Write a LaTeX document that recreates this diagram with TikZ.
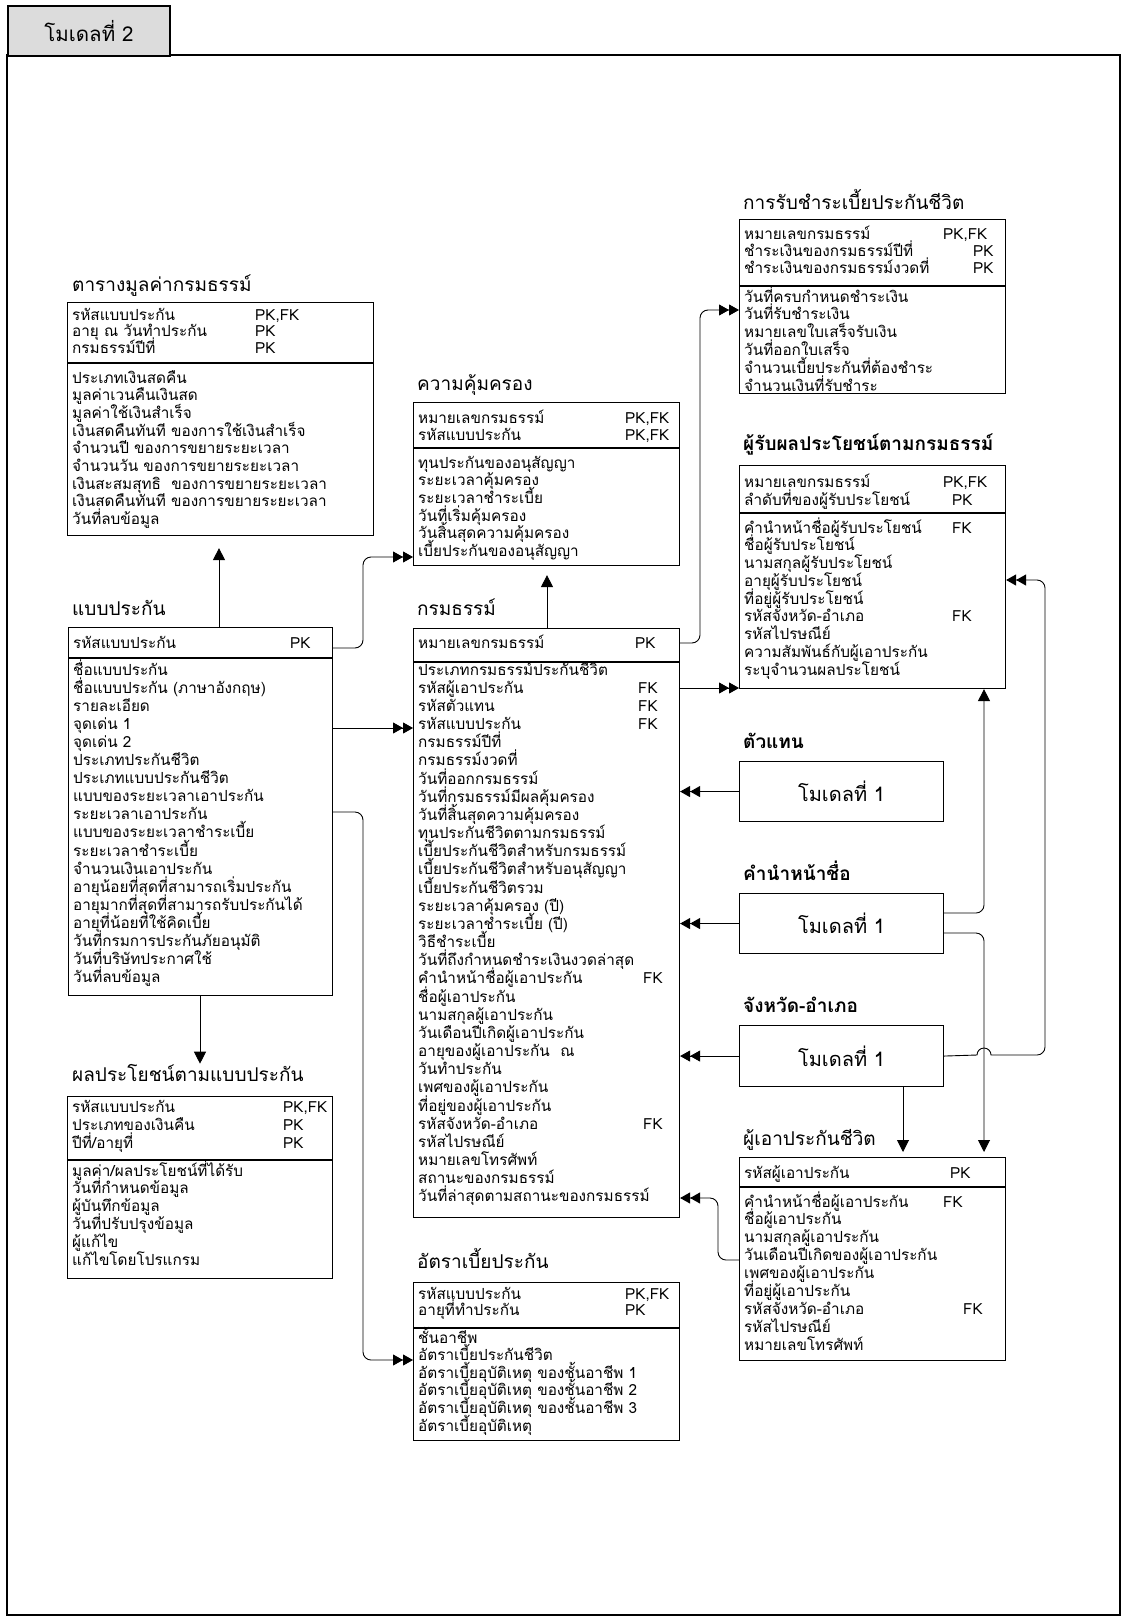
\documentclass[tikz,border=0pt]{standalone}
\usepackage{fontspec}
\setmainfont[Script=Thai]{Loma}
\usetikzlibrary{arrows.meta}
\definecolor{tabfill}{RGB}{220,220,220}
\newcommand{\tblrows}[5]{\foreach \rowtxt [count=\ri] in {#5} {\node[txt] (#1\ri) at (#2,{#3+(\ri-1)*#4}) {\rowtxt};}}
\begin{document}
\begin{tikzpicture}[x=1pt,y=-1pt,
  box/.style={draw, line width=1.1pt, inner sep=0, anchor=north west},
  txt/.style={anchor=base west, inner sep=0, font=\fontsize{15.3}{18}\selectfont},
  ttl/.style={anchor=base west, inner sep=0, font=\fontsize{19}{22}\selectfont},
  bttl/.style={ttl, font=\fontsize{19}{22}\selectfont\bfseries},
  conn/.style={line width=0.9pt, rounded corners=8},
  dbl/.style={-{Triangle[length=10,width=11]Triangle[length=10,width=11]}},
  sgl/.style={-{Triangle[length=12,width=12]}},
  div/.style={line width=1.1pt}]
\useasboundingbox (0,0) rectangle (1127,1621);
% frame and tab
\draw[line width=2pt] (7,55) rectangle (1120,1615);
\node[draw, line width=2pt, fill=tabfill, anchor=north west, minimum width=162, minimum height=50, inner sep=0, font=\fontsize{20.5}{24}\selectfont] (tab) at (7,5) {โมเดลที่ 2};

% ---------- A: ตารางมูลค่ากรมธรรม์
\node[ttl] (At) at (72,291) {ตารางมูลค่ากรมธรรม์};
\node[box, minimum width=306, minimum height=233] (A) at (67,302) {};
\draw[div] (A.west |- 0,363) -- (A.east |- 0,363);
\tblrows{Ah}{72}{320}{16.5}{รหัสแบบประกัน, อายุ ณ วันทำประกัน, กรมธรรม์ปีที่}
\node[txt] (Ak1) at (255,320) {PK,FK};
\node[txt] (Ak2) at (255,336.5) {PK};
\node[txt] (Ak3) at (255,353) {PK};
\tblrows{Ab}{72}{383}{17.7}{ประเภทเงินสดคืน, มูลค่าเวนคืนเงินสด, มูลค่าใช้เงินสำเร็จ, เงินสดคืนทันที ของการใช้เงินสำเร็จ, จำนวนปี ของการขยายระยะเวลา, จำนวนวัน ของการขยายระยะเวลา, เงินสะสมสุทธิ\ \ ของการขยายระยะเวลา, เงินสดคืนทันที ของการขยายระยะเวลา, วันที่ลบข้อมูล}

% ---------- B: แบบประกัน
\node[ttl] (Bt) at (72,615) {แบบประกัน};
\node[box, minimum width=264, minimum height=368] (B) at (68,627) {};
\draw[div] (B.west |- 0,658) -- (B.east |- 0,658);
\node[txt] (Bh1) at (73,648) {รหัสแบบประกัน};
\node[txt] (Bk1) at (290,648) {PK};
\tblrows{Bb}{73}{675}{18.1}{ชื่อแบบประกัน, ชื่อแบบประกัน (ภาษาอังกฤษ), รายละเอียด, จุดเด่น 1, จุดเด่น 2, ประเภทประกันชีวิต, ประเภทแบบประกันชีวิต, แบบของระยะเวลาเอาประกัน, ระยะเวลาเอาประกัน, แบบของระยะเวลาชำระเบี้ย, ระยะเวลาชำระเบี้ย, จำนวนเงินเอาประกัน, อายุน้อยที่สุดที่สามารถเริ่มประกัน, อายุมากที่สุดที่สามารถรับประกันได้, อายุที่น้อยที่ใช้คิดเบี้ย, วันที่กรมการประกันภัยอนุมัติ, วันที่บริษัทประกาศใช้, วันที่ลบข้อมูล}

% ---------- C: ผลประโยชน์ตามแบบประกัน
\node[ttl] (Ct) at (72,1081) {ผลประโยชน์ตามแบบประกัน};
\node[box, minimum width=265, minimum height=182] (C) at (67,1096) {};
\draw[div] (C.west |- 0,1160) -- (C.east |- 0,1160);
\tblrows{Ch}{72}{1112}{18}{รหัสแบบประกัน, ประเภทของเงินคืน, ปีที่/อายุที่}
\node[txt] (Ck1) at (283,1112) {PK,FK};
\node[txt] (Ck2) at (283,1130) {PK};
\node[txt] (Ck3) at (283,1148) {PK};
\tblrows{Cb}{72}{1176}{17.9}{มูลค่า/ผลประโยชน์ที่ได้รับ, วันที่กำหนดข้อมูล, ผู้บันทึกข้อมูล, วันที่ปรับปรุงข้อมูล, ผู้แก้ไข, แก้ไขโดยโปรแกรม}

% ---------- D: ความคุ้มครอง
\node[ttl] (Dt) at (417,390) {ความคุ้มครอง};
\node[box, minimum width=266, minimum height=163] (D) at (413,402) {};
\draw[div] (D.west |- 0,448) -- (D.east |- 0,448);
\tblrows{Dh}{418}{423}{17}{หมายเลขกรมธรรม์, รหัสแบบประกัน}
\node[txt] (Dk1) at (625,423) {PK,FK};
\node[txt] (Dk2) at (625,440) {PK,FK};
\tblrows{Db}{418}{468}{17.7}{ทุนประกันของอนุสัญญา, ระยะเวลาคุ้มครอง, ระยะเวลาชำระเบี้ย, วันที่เริ่มคุ้มครอง, วันสิ้นสุดความคุ้มครอง, เบี้ยประกันของอนุสัญญา}

% ---------- E: กรมธรรม์
\node[ttl] (Et) at (417,615) {กรมธรรม์};
\node[box, minimum width=266, minimum height=589] (E) at (413,628) {};
\draw[div] (E.west |- 0,662) -- (E.east |- 0,662);
\node[txt] (Eh1) at (418,648) {หมายเลขกรมธรรม์};
\node[txt] (Ek0) at (635,648) {PK};
\tblrows{Eb}{418}{675}{18.17}{ประเภทกรมธรรม์ประกันชีวิต, รหัสผู้เอาประกัน, รหัสตัวแทน, รหัสแบบประกัน, กรมธรรม์ปีที่, กรมธรรม์งวดที่, วันที่ออกกรมธรรม์, วันที่กรมธรรม์มีผลคุ้มครอง, วันที่สิ้นสุดความคุ้มครอง, ทุนประกันชีวิตตามกรมธรรม์, เบี้ยประกันชีวิตสำหรับกรมธรรม์, เบี้ยประกันชีวิตสำหรับอนุสัญญา, เบี้ยประกันชีวิตรวม, ระยะเวลาคุ้มครอง (ปี), ระยะเวลาชำระเบี้ย (ปี), วิธีชำระเบี้ย, วันที่ถึงกำหนดชำระเงินงวดล่าสุด, คำนำหน้าชื่อผู้เอาประกัน, ชื่อผู้เอาประกัน, นามสกุลผู้เอาประกัน, วันเดือนปีเกิดผู้เอาประกัน, อายุของผู้เอาประกัน\ \ ณ, วันทำประกัน, เพศของผู้เอาประกัน, ที่อยู่ของผู้เอาประกัน, รหัสจังหวัด-อำเภอ, รหัสไปรษณีย์, หมายเลขโทรศัพท์, สถานะของกรมธรรม์, วันที่ล่าสุดตามสถานะของกรมธรรม์}
\node[txt] (Ek2) at (638,693.17) {FK};
\node[txt] (Ek3) at (638,711.34) {FK};
\node[txt] (Ek4) at (638,729.51) {FK};
\node[txt] (Ek18) at (643,983.9) {FK};
\node[txt] (Ek26) at (643,1129.3) {FK};

% ---------- G: การรับชำระเบี้ยประกันชีวิต
\node[ttl] (Gt) at (743,210) {การรับชำระเบี้ยประกันชีวิต};
\node[box, minimum width=266, minimum height=174] (G) at (739,219) {};
\draw[div] (G.west |- 0,286) -- (G.east |- 0,286);
\tblrows{Gh}{744}{240}{16.5}{หมายเลขกรมธรรม์, ชำระเงินของกรมธรรม์ปีที่, ชำระเงินของกรมธรรม์งวดที่}
\node[txt] (Gk1) at (943,240) {PK,FK};
\node[txt] (Gk2) at (973,256.5) {PK};
\node[txt] (Gk3) at (973,273) {PK};
\tblrows{Gb}{744}{302}{17.8}{วันที่ครบกำหนดชำระเงิน, วันที่รับชำระเงิน, หมายเลขใบเสร็จรับเงิน, วันที่ออกใบเสร็จ, จำนวนเบี้ยประกันที่ต้องชำระ, จำนวนเงินที่รับชำระ}

% ---------- F: ผู้รับผลประโยชน์ตามกรมธรรม์
\node[bttl] (Ft) at (743,450) {ผู้รับผลประโยชน์ตามกรมธรรม์};
\node[box, minimum width=266, minimum height=223] (F) at (739,465) {};
\draw[div] (F.west |- 0,513) -- (F.east |- 0,513);
\tblrows{Fh}{744}{487}{18}{หมายเลขกรมธรรม์, ลำดับที่ของผู้รับประโยชน์}
\node[txt] (Fk1) at (943,487) {PK,FK};
\node[txt] (Fk2) at (952,505) {PK};
\tblrows{Fb}{744}{533}{17.75}{คำนำหน้าชื่อผู้รับประโยชน์, ชื่อผู้รับประโยชน์, นามสกุลผู้รับประโยชน์, อายุผู้รับประโยชน์, ที่อยู่ผู้รับประโยชน์, รหัสจังหวัด-อำเภอ, รหัสไปรษณีย์, ความสัมพันธ์กับผู้เอาประกัน, ระบุจำนวนผลประโยชน์}
\node[txt] (Fk3) at (952,533) {FK};
\node[txt] (Fk4) at (952,621.75) {FK};

% ---------- model boxes
\node[bttl] (M1t) at (743,748) {ตัวแทน};
\node[box, minimum width=204, minimum height=60, font=\fontsize{20}{24}\selectfont] (M1) at (739,761) {โมเดลที่ 1};
\node[bttl] (M2t) at (743,880) {คำนำหน้าชื่อ};
\node[box, minimum width=204, minimum height=60, font=\fontsize{20}{24}\selectfont] (M2) at (739,893) {โมเดลที่ 1};
\node[bttl] (M3t) at (743,1012) {จังหวัด-อำเภอ};
\node[box, minimum width=204, minimum height=61, font=\fontsize{20}{24}\selectfont] (M3) at (739,1025) {โมเดลที่ 1};

% ---------- H: ผู้เอาประกันชีวิต
\node[ttl] (Ht) at (743,1145) {ผู้เอาประกันชีวิต};
\node[box, minimum width=266, minimum height=203] (H) at (739,1157) {};
\draw[div] (H.west |- 0,1187) -- (H.east |- 0,1187);
\node[txt] (Hh1) at (744,1178) {รหัสผู้เอาประกัน};
\node[txt] (Hk0) at (950,1178) {PK};
\tblrows{Hb}{744}{1207}{17.9}{คำนำหน้าชื่อผู้เอาประกัน, ชื่อผู้เอาประกัน, นามสกุลผู้เอาประกัน, วันเดือนปีเกิดของผู้เอาประกัน, เพศของผู้เอาประกัน, ที่อยู่ผู้เอาประกัน, รหัสจังหวัด-อำเภอ, รหัสไปรษณีย์, หมายเลขโทรศัพท์}
\node[txt] (Hk1) at (943,1207) {FK};
\node[txt] (Hk7) at (963,1314.4) {FK};

% ---------- I: อัตราเบี้ยประกัน
\node[ttl] (It) at (417,1268) {อัตราเบี้ยประกัน};
\node[box, minimum width=266, minimum height=158] (I) at (413,1282) {};
\draw[div] (I.west |- 0,1328) -- (I.east |- 0,1328);
\tblrows{Ih}{418}{1299}{16.5}{รหัสแบบประกัน, อายุที่ทำประกัน}
\node[txt] (Ik1) at (625,1299) {PK,FK};
\node[txt] (Ik2) at (625,1315.5) {PK};
\tblrows{Ib}{418}{1343}{17.6}{ชั้นอาชีพ, อัตราเบี้ยประกันชีวิต, อัตราเบี้ยอุบัติเหตุ ของชั้นอาชีพ 1, อัตราเบี้ยอุบัติเหตุ ของชั้นอาชีพ 2, อัตราเบี้ยอุบัติเหตุ ของชั้นอาชีพ 3, อัตราเบี้ยอุบัติเหตุ}

% ---------- connectors
\coordinate (Aend) at ([yshift=-12pt]A.south -| 219,0);
\coordinate (Dend) at ([yshift=-9pt]D.south -| 547,0);
\draw[conn,sgl] (B.north -| 219,0) -- (Aend);
\draw[conn,sgl] (B.south -| 200,0) -- (Ct.north -| 200,0);
\draw[conn,dbl] (B.east |- 0,648) -- (363,648) -- (363,557) -- (D.west |- 0,557);
\draw[conn,dbl] (B.east |- 0,728) -- (E.west |- 0,728);
\draw[conn,dbl] (B.east |- 0,812) -- (363,812) -- (363,1360) -- (I.west |- 0,1360);
\draw[conn,sgl] (E.north -| 547,0) -- (Dend);
\draw[conn,dbl] (E.east |- 0,643) -- (700,643) -- (700,310) -- (G.west |- 0,310);
\draw[conn,dbl] (E.east |- 0,688) -- (F.west |- 0,688);
\draw[conn,dbl] (M1.west) -- (E.east |- M1.west);
\draw[conn,dbl] (M2.west) -- (E.east |- M2.west);
\draw[conn,dbl] (M3.west) -- (E.east |- M3.west);
\draw[conn,dbl] (H.west |- 0,1260) -- (718,1260) -- (718,1198) -- (E.east |- 0,1198);
\draw[conn,sgl] (M2.east |- 0,913) -- (984,913) -- (F.south -| 984,0);
\draw[conn,sgl] (M2.east |- 0,933) -- (984,933) -- ([yshift=5pt]H.north -| 984,0);
\draw[line width=0.9pt,dbl] (M3.east) -- (977,1055) arc[start angle=180, end angle=360, radius=7] -- (995,1055) [rounded corners=8] -- (1045,1055) -- (1045,580) -- (F.east |- 0,580);
\draw[conn,sgl] (M3.south -| 903,0) -- ([yshift=5pt]H.north -| 903,0);
\end{tikzpicture}
\end{document}
